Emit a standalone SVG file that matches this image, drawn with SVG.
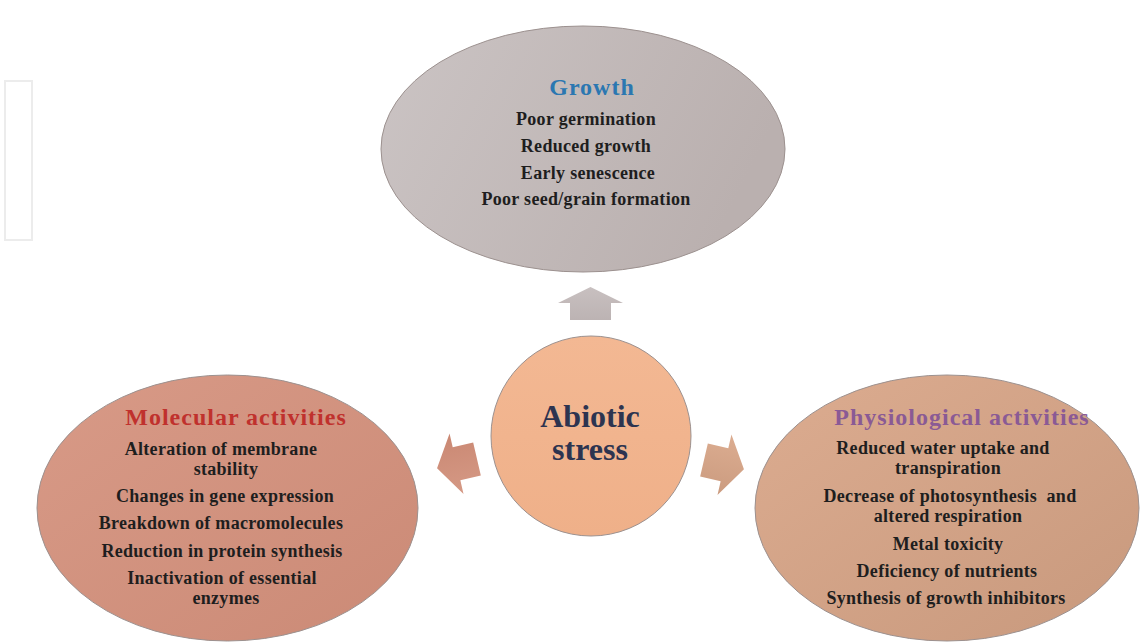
<svg xmlns="http://www.w3.org/2000/svg" width="1140" height="643" viewBox="0 0 1140 643">
<defs>
<linearGradient id="gTop" x1="0" y1="0" x2="1" y2="0.3">
<stop offset="0" stop-color="#cbc4c4"/><stop offset="1" stop-color="#bab0af"/>
</linearGradient>
<linearGradient id="gLeft" x1="0" y1="0" x2="1" y2="1">
<stop offset="0" stop-color="#d89a87"/><stop offset="1" stop-color="#cb8a76"/>
</linearGradient>
<linearGradient id="gRight" x1="0" y1="0" x2="1" y2="1">
<stop offset="0" stop-color="#dcac90"/><stop offset="1" stop-color="#c8997d"/>
</linearGradient>
<linearGradient id="gCenter" x1="0" y1="0" x2="0" y2="1">
<stop offset="0" stop-color="#f3b893"/><stop offset="1" stop-color="#efb089"/>
</linearGradient>
<linearGradient id="gAUp" x1="0" y1="0" x2="0" y2="1">
<stop offset="0" stop-color="#c8c0c0"/><stop offset="1" stop-color="#bcb3b3"/>
</linearGradient>
<linearGradient id="gALeft" x1="0" y1="0" x2="0" y2="1">
<stop offset="0" stop-color="#d59985"/><stop offset="1" stop-color="#ca8873"/>
</linearGradient>
<linearGradient id="gARight" x1="0" y1="0" x2="0" y2="1">
<stop offset="0" stop-color="#dcad91"/><stop offset="1" stop-color="#cb9b7f"/>
</linearGradient>
<style>
.item{font-family:"Liberation Serif","Times New Roman",serif;font-weight:bold;font-size:18px;letter-spacing:0.3px;fill:#1e1e1e;text-anchor:middle}
.title{font-family:"Liberation Serif","Times New Roman",serif;font-weight:bold;font-size:24px;letter-spacing:1px;text-anchor:middle}
.main{font-family:"Liberation Serif","Times New Roman",serif;font-weight:bold;font-size:32px;fill:#2d3450;text-anchor:middle}
.shape{stroke:#9c918f;stroke-width:1}
</style>
</defs>
<rect x="0" y="0" width="1140" height="643" fill="#ffffff"/>
<rect x="5" y="81" width="27" height="159" fill="#ffffff" stroke="#ececec" stroke-width="2"/>
<g id="connectors">
<polygon points="570,320 611,320 611,303 623,303 590.5,287 558,303 570,303" fill="url(#gAUp)"/>
<polygon transform="translate(477,459) rotate(167)" points="0,-17 21,-17 21,-31 41,0 21,31 21,17 0,17" fill="url(#gALeft)"/>
<polygon transform="translate(704,460) rotate(13)" points="0,-17 21,-17 21,-31 41,0 21,31 21,17 0,17" fill="url(#gARight)"/>
</g>
<g id="growth">
<ellipse class="shape" cx="583" cy="149" rx="202" ry="123" fill="url(#gTop)"/>
<text class="title" x="592" y="95" fill="#2b77b1">Growth</text>
<text class="item" x="586" y="125">Poor germination</text>
<text class="item" x="586" y="152">Reduced growth</text>
<text class="item" x="588" y="178.5">Early senescence</text>
<text class="item" x="586" y="205">Poor seed/grain formation</text>
</g>
<g id="molecular">
<ellipse class="shape" cx="227.5" cy="508" rx="190.5" ry="133" fill="url(#gLeft)"/>
<text class="title" x="236" y="425" fill="#c0312d">Molecular activities</text>
<text class="item" x="221" y="455">Alteration of membrane</text>
<text class="item" x="226" y="475">stability</text>
<text class="item" x="225" y="502">Changes in gene expression</text>
<text class="item" x="221" y="529">Breakdown of macromolecules</text>
<text class="item" x="222" y="557">Reduction in protein synthesis</text>
<text class="item" x="222" y="584">Inactivation of essential</text>
<text class="item" x="226" y="604">enzymes</text>
</g>
<g id="physiological">
<ellipse class="shape" cx="947" cy="508" rx="192" ry="133" fill="url(#gRight)"/>
<text class="title" x="962" y="425" fill="#8a5a95">Physiological activities</text>
<text class="item" x="943" y="454">Reduced water uptake and</text>
<text class="item" x="948" y="474">transpiration</text>
<text class="item" x="950" y="502" xml:space="preserve">Decrease of photosynthesis  and</text>
<text class="item" x="948" y="522">altered respiration</text>
<text class="item" x="948" y="550">Metal toxicity</text>
<text class="item" x="947" y="577">Deficiency of nutrients</text>
<text class="item" x="946" y="604">Synthesis of growth inhibitors</text>
</g>
<g id="abiotic">
<circle class="shape" cx="591" cy="436" r="100" fill="url(#gCenter)" stroke="#c4916f"/>
<text class="main" x="590" y="427">Abiotic</text>
<text class="main" x="590" y="460">stress</text>
</g>
</svg>
